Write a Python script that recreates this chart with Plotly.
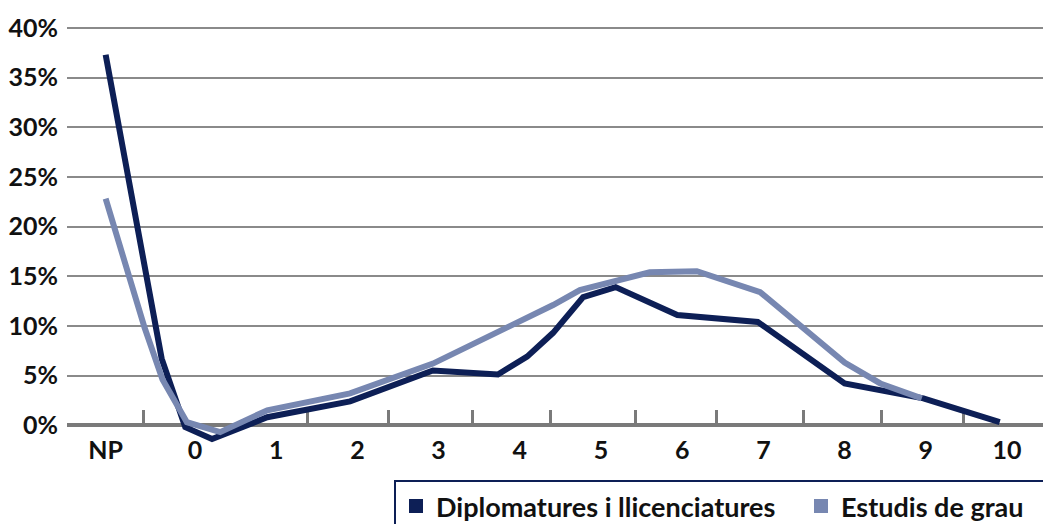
import plotly.graph_objects as go

# ---- data (x in grade units, NP placed left of 0; y in %) ----
dip_x = [-1.1, -0.41, -0.12, 0.21, 0.89, 1.91, 2.93, 3.73, 4.09, 4.41, 4.78, 5.18, 5.94, 6.93, 8.0, 8.97, 9.91]
dip_y = [37.3, 6.7, -0.2, -1.4, 0.8, 2.4, 5.5, 5.1, 6.9, 9.3, 12.9, 13.9, 11.1, 10.4, 4.2, 2.7, 0.3]

grau_x = [-1.1, -0.62, -0.4, -0.1, 0.31, 0.89, 1.91, 2.93, 4.41, 4.74, 5.6, 6.18, 6.96, 8.0, 8.44, 8.95]
grau_y = [22.8, 9.8, 4.6, 0.3, -0.7, 1.5, 3.2, 6.2, 12.1, 13.6, 15.4, 15.5, 13.4, 6.3, 4.2, 2.7]

category_labels = ["NP", "0", "1", "2", "3", "4", "5", "6", "7", "8", "9", "10"]
category_pos = [-1.1, 0, 1, 2, 3, 4, 5, 6, 7, 8, 9, 10]
tick_mark_pos = [-1.565, -0.64, 1.38, 2.38, 3.42, 4.38, 5.43, 6.42, 7.49, 8.46, 9.46]

y_tick_vals = [0, 5, 10, 15, 20, 25, 30, 35, 40]
y_tick_labels = ["0%", "5%", "10%", "15%", "20%", "25%", "30%", "35%", "40%"]

series_names = ["Diplomatures i llicenciatures", "Estudis de grau"]

DARK = "#0d1f56"
LIGHT = "#7787b1"
GRID = "#8a8a8a"
AXIS = "#7a7a7a"
FONT = dict(family="Lato, 'Open Sans', sans-serif", size=25, color="#111111", weight="bold")
LEGEND_FONT = dict(family="Lato, 'Open Sans', sans-serif", size=27, color="#111111", weight="bold")

XR = [-1.576, 10.443]
YR = [-2.5, 41]

fig = go.Figure()
fig.add_trace(go.Scatter(x=dip_x, y=dip_y, mode="lines",
                         line=dict(color=DARK, width=6), showlegend=False))
fig.add_trace(go.Scatter(x=grau_x, y=grau_y, mode="lines",
                         line=dict(color=LIGHT, width=6), showlegend=False))
# legend entries (square swatches)
for name, col in zip(series_names, [DARK, LIGHT]):
    fig.add_trace(go.Scatter(x=[None], y=[None], mode="markers", name=name,
                             marker=dict(symbol="square", size=16, color=col,
                                         line=dict(color=col, width=4))))

pos0 = (0 - YR[0]) / (YR[1] - YR[0])

fig.update_layout(
    width=1043, height=524,
    margin=dict(l=67, r=0, t=18, b=74, autoexpand=False),
    paper_bgcolor="white", plot_bgcolor="white",
    font=FONT,
    xaxis=dict(range=XR, anchor="free", position=pos0,
               tickvals=category_pos, ticktext=category_labels,
               ticks="", showgrid=False, zeroline=False,
               showline=True, linecolor=AXIS, linewidth=4,
               layer="below traces", tickfont=FONT, ticklabelstandoff=2),
    xaxis2=dict(range=XR, overlaying="x", anchor="free", position=pos0,
                side="bottom", tickvals=tick_mark_pos, ticks="inside",
                ticklen=15, tickwidth=3, tickcolor=AXIS,
                showticklabels=False, showgrid=False, zeroline=False,
                showline=False, layer="below traces"),
    yaxis=dict(range=YR, tickvals=y_tick_vals, ticktext=y_tick_labels,
               showgrid=True, gridcolor=GRID, gridwidth=2,
               zeroline=False, showline=False, ticks="", tickfont=FONT,
               ticklabelstandoff=8, layer="below traces"),
    legend=dict(orientation="h", x=(394 - 67) / 976, xanchor="left",
                y=-(480 - 450) / 432, yanchor="top",
                bordercolor=DARK, borderwidth=2, bgcolor="white",
                font=LEGEND_FONT, itemsizing="constant", itemwidth=30,
                entrywidth=360, entrywidthmode="pixels"),
    showlegend=True,
)
# dummy trace to activate xaxis2 so its ticks draw
fig.add_trace(go.Scatter(x=[None], y=[None], xaxis="x2", showlegend=False))

fig.write_html("out.html", config={"displayModeBar": False},
               post_script="document.body.style.margin='0';document.body.style.padding='0';")
